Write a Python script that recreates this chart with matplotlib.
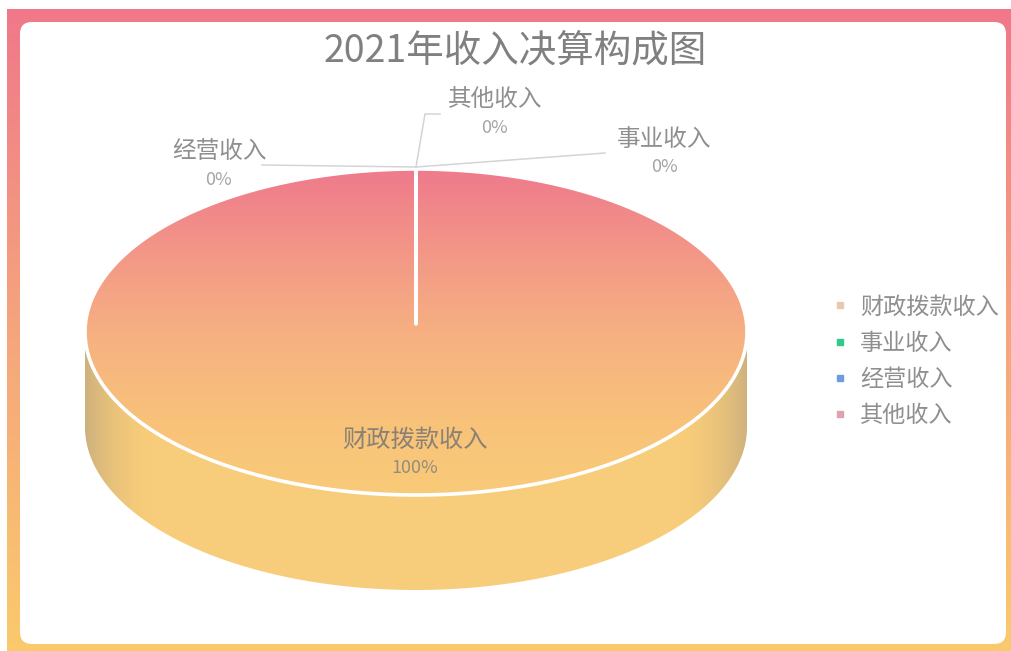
import numpy as np
import matplotlib
matplotlib.use('Agg')
import matplotlib.pyplot as plt
from matplotlib.patches import Polygon, FancyBboxPatch
from matplotlib.lines import Line2D

plt.rcParams['font.family'] = ['Noto Sans CJK SC', 'DejaVu Sans']

# ---------------- data ----------------
title = '2021年收入决算构成图'
categories = ['财政拨款收入', '事业收入', '经营收入', '其他收入']
values = [100, 0, 0, 0]
legend_colors = ['#EAC7AF', '#2FCB8E', '#6F9BE0', '#DDA3AE']

# ---------------- layout ----------------
W, H = 1011, 651
CX, CY, RX, RY, DEPTH = 416, 332, 331, 163, 95
START = 90.0  # degrees, clockwise
label_pos = {
    '财政拨款收入': (415, 440),
    '事业收入': (664, 139),
    '经营收入': (219, 152),
    '其他收入': (495, 100),
}
leader_pts = {
    '事业收入': [(605, 153)],
    '经营收入': [(262, 165)],
    '其他收入': [(425, 114), (440, 114)],
}

fig = plt.figure(figsize=(W / 100, H / 100), dpi=100)
ax = fig.add_axes([0, 0, 1, 1])
ax.set_xlim(0, W)
ax.set_ylim(H, 0)
ax.axis('off')

yy = np.arange(H)[:, None]
xx = np.arange(W)[None, :]


def vstops(stops):
    ys = [s[0] for s in stops]
    img = np.zeros((H, W, 3))
    for c in range(3):
        col = np.interp(np.arange(H), ys, [s[1][c] / 255 for s in stops])
        img[:, :, c] = col[:, None]
    return img


# background frame gradient
bg = vstops([(9, (240, 120, 138)), (330, (245, 165, 125)), (651, (250, 202, 108))])
ax.imshow(bg, extent=(0, W, H, 0), origin='upper', zorder=0, interpolation='bilinear')
ax.add_patch(plt.Rectangle((0, 0), 7, H, fc='white', ec='none', zorder=0.5))
ax.add_patch(plt.Rectangle((0, 0), W, 9, fc='white', ec='none', zorder=0.5))
ax.add_patch(FancyBboxPatch((20, 22), 986, 622, boxstyle='round,pad=0,rounding_size=12',
                            fc='white', ec='none', zorder=1))

# pie geometry from values
total = float(sum(values))
angles = []
a = START
for v in values:
    span = 360.0 * v / total
    angles.append((a, a - span))
    a -= span

top_img = vstops([(169, (239, 122, 140)), (250, (243, 150, 135)), (332, (246, 176, 130)),
                  (420, (248, 194, 122)), (495, (248, 203, 120)), (651, (248, 203, 120))])
side_base = np.array([247, 204, 122]) / 255
t = np.abs(xx - CX) / RX
shade = np.clip((t - 0.8) / 0.2, 0, 1) ** 1.8 * 0.42
shade = np.broadcast_to(shade, (H, W))
side_img = side_base[None, None, :] * (1 - shade[..., None]) + \
    (np.array([150, 140, 130]) / 255)[None, None, :] * shade[..., None]

for (a1, a2), v in zip(angles, values):
    if v <= 0:
        continue
    th = np.radians(np.linspace(a1, a2, 720))
    # side face (front-facing part of arc)
    front = np.sin(th) <= 0
    idx = np.where(front)[0]
    if len(idx):
        runs = np.split(idx, np.where(np.diff(idx) != 1)[0] + 1)
        for r in runs:
            tr = th[r]
            xs = CX + RX * np.cos(tr)
            ys = CY - RY * np.sin(tr)
            pts = np.concatenate([np.c_[xs, ys], np.c_[xs[::-1], ys[::-1] + DEPTH]])
            sp = Polygon(pts, closed=True, fc='none', ec='none', zorder=2)
            ax.add_patch(sp)
            im = ax.imshow(side_img, extent=(0, W, H, 0), origin='upper', zorder=2,
                           interpolation='bilinear')
            im.set_clip_path(sp)
    # top face
    xs = CX + RX * np.cos(th)
    ys = CY - RY * np.sin(th)
    pts = np.vstack([[CX, CY - 8], np.c_[xs, ys]])
    tp = Polygon(pts, closed=True, fc='none', ec='none', zorder=3)
    ax.add_patch(tp)
    im = ax.imshow(top_img, extent=(0, W, H, 0), origin='upper', zorder=3,
                   interpolation='bilinear')
    im.set_clip_path(tp)
    ax.add_patch(Polygon(pts, closed=True, fc='none', ec='white', lw=2.6, zorder=4,
                         joinstyle='round'))

# labels
for (a1, a2), cat, v in zip(angles, categories, values):
    lx, ly = label_pos[cat]
    pct = f'{v / total * 100:.0f}%'
    if v / total >= 0.5:
        ax.text(lx, ly, cat, ha='center', va='center', fontsize=17.5, color='#8a8175', zorder=6)
        ax.text(lx, ly + 28, pct, ha='center', va='center', fontsize=13, color='#968c7e', zorder=6)
    else:
        mid = np.radians((a1 + a2) / 2)
        ax0 = CX + RX * np.cos(mid)
        ay0 = CY - RY * np.sin(mid)
        path = [(ax0, ay0 - 2)] + leader_pts[cat]
        ax.add_line(Line2D([p[0] for p in path], [p[1] for p in path], color='#d4d4d4',
                           lw=1.1, zorder=5))
        ax.text(lx, ly, cat, ha='center', va='center', fontsize=17, color='#8f8f8f', zorder=6)
        ax.text(lx, ly + 28, pct, ha='center', va='center', fontsize=13, color='#a5a5a5', zorder=6)

# title
ax.text(515, 52, title, ha='center', va='center', fontsize=27, color='#808080', zorder=6)

# legend
handles = [Line2D([], [], marker='s', ls='none', ms=5, mfc=c, mec=c) for c in legend_colors]
leg = ax.legend(handles, categories, loc='upper left', bbox_to_anchor=(823 / W, 1 - 284 / H),
                bbox_transform=fig.transFigure, frameon=False, fontsize=16.7, labelcolor='#8f8f8f',
                handlelength=0.45, handletextpad=0.65, labelspacing=0.57, borderpad=0)
leg.set_zorder(7)

fig.savefig('out.png', dpi=100)
